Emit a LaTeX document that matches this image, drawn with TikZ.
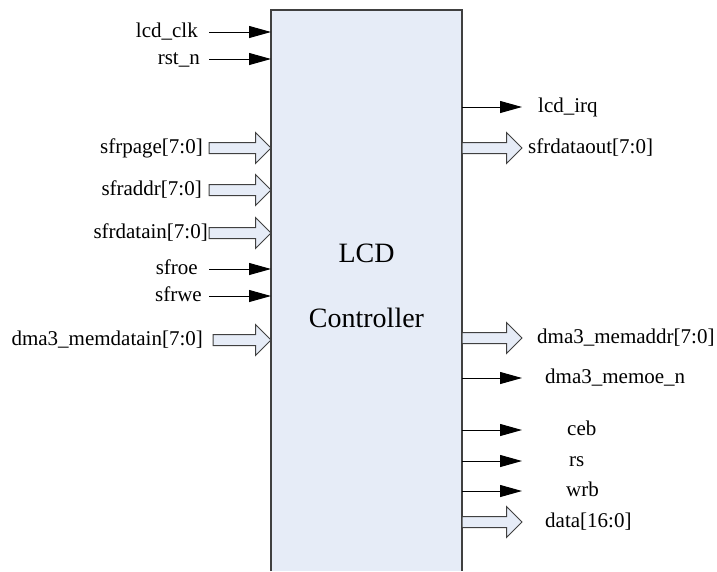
\documentclass[tikz,border=0pt]{standalone}
\usepackage{fontspec}
\setmainfont{Liberation Serif}
\usepackage{tikz}
\usetikzlibrary{arrows.meta,positioning,shapes.arrows}
\definecolor{boxfill}{HTML}{E6ECF7}
\definecolor{boxline}{HTML}{404040}
\newcommand{\sigfont}{\fontsize{21}{25}\selectfont}
\newcommand{\titlefont}{\fontsize{28}{34}\selectfont}
\tikzset{
  sig/.style={-{Triangle[length=22pt,width=12pt]},line width=1pt,draw=black},
  bus/.style={single arrow,draw=boxline,fill=boxfill,line width=1pt,inner sep=5pt,
              single arrow head extend=10pt,single arrow tip angle=90,
              outer sep=0pt,minimum height=62pt},
  ctrlbox/.style={fill=boxfill,inner sep=0pt,outer sep=0pt},
  boxedge/.style={draw=boxline,line width=1.4pt},
  lbl/.style={font=\sigfont,inner sep=0pt,text height=14pt,text depth=4pt},
  title/.style={font=\titlefont,inner sep=0pt}
}
\begin{document}
\begin{tikzpicture}[x=1pt,y=-1pt]
  \useasboundingbox (0,0) rectangle (717,571);
  \node[ctrlbox,minimum width=191pt,minimum height=561pt] (ctrl) at (366.5,290.5) {};
  \draw[boxedge] (ctrl.south west) -- (ctrl.north west) -- (ctrl.north east) -- (ctrl.south east);
  \node[title] (lcd) at (366.5,253) {LCD};
  \node[title] (ctl) at (366.5,318) {Controller};
  % inputs
  \coordinate (clk) at (209,32);
  \coordinate (rst) at (209,59);
  \coordinate (oe) at (209,269);
  \coordinate (we) at (209,296);
  \draw[sig] (clk) -- (clk -| ctrl.west);
  \draw[sig] (rst) -- (rst -| ctrl.west);
  \draw[sig] (oe) -- (oe -| ctrl.west);
  \draw[sig] (we) -- (we -| ctrl.west);
  \node[lbl,left=11pt of clk] (clk-l) {lcd\_clk};
  \node[lbl,left=9pt of rst] (rst-l) {rst\_n};
  \node[lbl,left=11pt of oe] (oe-l) {sfroe};
  \node[lbl,left=7pt of we] (we-l) {sfrwe};
  \node[bus,anchor=tip] (page) at (ctrl.west |- 0,148) {};
  \node[bus,anchor=tip] (addr) at (ctrl.west |- 0,190) {};
  \node[bus,anchor=tip] (din) at (ctrl.west |- 0,233) {};
  \node[bus,anchor=tip,minimum height=58pt] (mdin) at (ctrl.west |- 0,340) {};
  \node[lbl,left=6pt of page.tail] (page-l) {sfrpage[7:0]};
  \node[lbl,left=7pt of addr.tail] (addr-l) {sfraddr[7:0]};
  \node[lbl,left=1pt of din.tail] (din-l) {sfrdatain[7:0]};
  \node[lbl,left=10pt of mdin.tail] (mdin-l) {dma3\_memdatain[7:0]};
  % outputs
  \coordinate (irq) at (522,107);
  \coordinate (moe) at (522,378);
  \coordinate (ceb) at (522,430);
  \coordinate (rs) at (522,461);
  \coordinate (wrb) at (522,491);
  \draw[sig] (irq -| ctrl.east) -- (irq);
  \draw[sig] (moe -| ctrl.east) -- (moe);
  \draw[sig] (ceb -| ctrl.east) -- (ceb);
  \draw[sig] (rs -| ctrl.east) -- (rs);
  \draw[sig] (wrb -| ctrl.east) -- (wrb);
  \node[lbl,right=16pt of irq] (irq-l) {lcd\_irq};
  \node[lbl,right=23pt of moe] (moe-l) {dma3\_memoe\_n};
  \node[lbl,right=45pt of ceb] (ceb-l) {ceb};
  \node[lbl,right=47pt of rs] (rs-l) {rs};
  \node[lbl,right=44pt of wrb] (wrb-l) {wrb};
  \node[bus,anchor=tail,minimum height=60pt] (dout) at (ctrl.east |- 0,148) {};
  \node[bus,anchor=tail,minimum height=60pt] (maddr) at (ctrl.east |- 0,338) {};
  \node[bus,anchor=tail,minimum height=60pt] (data) at (ctrl.east |- 0,522) {};
  \node[lbl,right=6pt of dout.tip] (dout-l) {sfrdataout[7:0]};
  \node[lbl,right=15pt of maddr.tip] (maddr-l) {dma3\_memaddr[7:0]};
  \node[lbl,right=23pt of data.tip] (data-l) {data[16:0]};
\end{tikzpicture}
\end{document}
